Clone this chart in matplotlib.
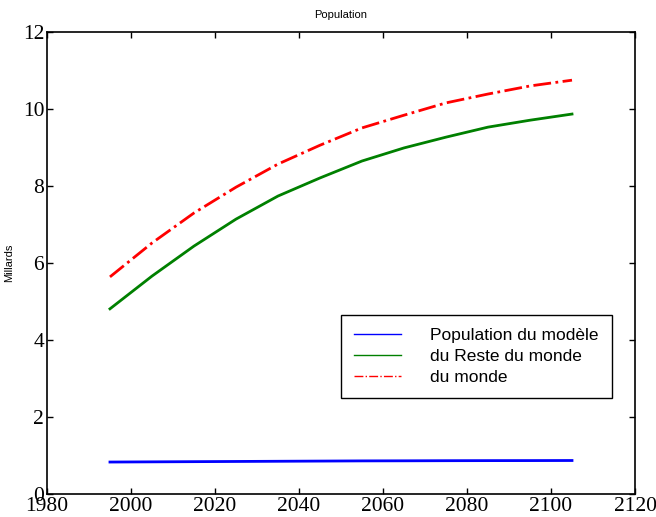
import matplotlib
matplotlib.use("Agg")
import matplotlib.pyplot as plt

# population projections (billions), one point per decade
years = [1995, 2005, 2015, 2025, 2035, 2045, 2055, 2065, 2075, 2085, 2095, 2105]
pop_modele = [0.83, 0.835, 0.84, 0.845, 0.85, 0.855, 0.86, 0.862, 0.865, 0.867, 0.868, 0.87]
pop_reste = [4.81, 5.66, 6.44, 7.14, 7.74, 8.21, 8.65, 8.99, 9.27, 9.53, 9.71, 9.87]
pop_monde = [5.64, 6.52, 7.30, 7.97, 8.57, 9.06, 9.51, 9.84, 10.16, 10.39, 10.60, 10.75]

fig = plt.figure(figsize=(6.56, 5.17), dpi=100)
ax = fig.add_axes([0.0716, 0.0445, 0.8964, 0.8935])

ax.plot(years, pop_modele, color="blue", lw=2, label="Population du modèle")
ax.plot(years, pop_reste, color="green", lw=2, label="du Reste du monde")
ax.plot(years, pop_monde, color="red", lw=2, ls="-.", label="du monde")

ax.set_xlim(1980, 2120)
ax.set_ylim(0, 12)
ax.set_xticks(range(1980, 2121, 20))
ax.set_yticks(range(0, 13, 2))
ax.tick_params(direction="in", length=4, width=1, top=True, right=True,
               labelsize=15.5, pad=2)
for lab in ax.get_xticklabels() + ax.get_yticklabels():
    lab.set_family("Liberation Serif")
for s in ax.spines.values():
    s.set_linewidth(1.2)

ax.set_title("Population", fontsize=8, family="Liberation Sans", pad=10)
ax.set_ylabel("Millards", fontsize=8, family="Liberation Sans")
ax.yaxis.set_label_coords(-0.056, 0.5)

leg = ax.legend(loc="upper left", bbox_to_anchor=(0.5, 0.387), borderaxespad=0,
                fancybox=False, framealpha=1, edgecolor="black", borderpad=0.75,
                handlelength=2.7, handletextpad=1.7, labelspacing=0.32,
                prop={"family": "Liberation Sans", "size": 12.5})
leg.get_frame().set_linewidth(1.0)
for h in leg.get_lines():
    h.set_linewidth(1)

fig.savefig("out.png", dpi=100)
